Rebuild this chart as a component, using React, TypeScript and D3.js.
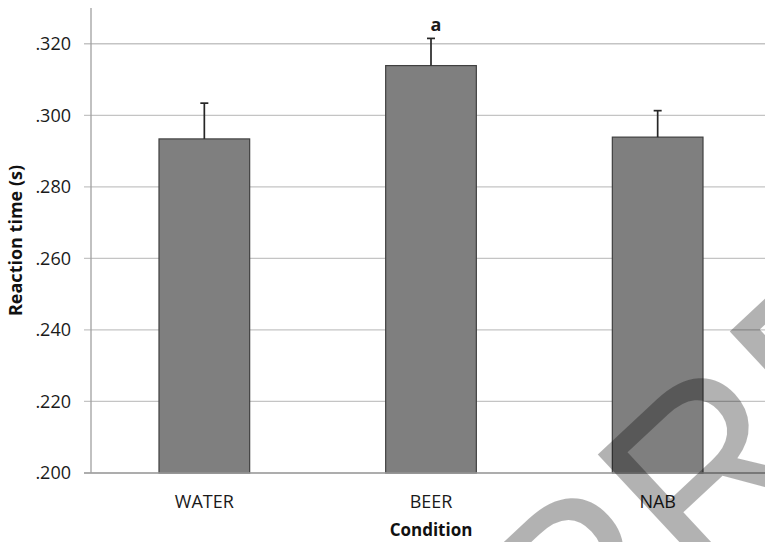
import { useEffect, useRef } from 'react'
import * as d3 from 'd3'

const conditions = ['WATER', 'BEER', 'NAB']
const reactionTimes = [0.2934, 0.3139, 0.2939]
const errors = [0.01, 0.0076, 0.0074]
const markers = ['', 'a', '']
const yTicks = [0.2, 0.22, 0.24, 0.26, 0.28, 0.3, 0.32]

const W = 765
const H = 542
const FONT = '"Open Sans", "Noto Sans", sans-serif'

export default function App() {
  const svgRef = useRef<SVGSVGElement>(null)

  useEffect(() => {
    const svgEl = svgRef.current
    if (!svgEl) return

    const margin = { top: 8, right: -6, bottom: 69, left: 91 }
    const innerW = W - margin.left - margin.right
    const innerH = H - margin.top - margin.bottom

    const svg = d3.select(svgEl)
    svg.selectAll('*').remove()

    const x = d3.scaleBand<string>()
      .domain(conditions)
      .range([0, innerW])
      .paddingInner(0.6)
      .paddingOuter(0.3)
    const y = d3.scaleLinear().domain([0.2, 0.33]).range([innerH, 0])

    const g = svg.append('g').attr('transform', `translate(${margin.left},${margin.top})`)

    // gridlines + left ticks
    g.append('g')
      .selectAll('line')
      .data(yTicks)
      .enter()
      .append('line')
      .attr('x1', -7)
      .attr('x2', innerW)
      .attr('y1', d => y(d))
      .attr('y2', d => y(d))
      .style('stroke', '#c4c4c4')
      .style('stroke-width', '1.3')

    // y tick labels
    g.append('g')
      .selectAll('text')
      .data(yTicks)
      .enter()
      .append('text')
      .attr('x', -20)
      .attr('y', d => y(d))
      .attr('dy', '0.36em')
      .attr('text-anchor', 'end')
      .style('font-family', FONT)
      .style('font-size', '18px')
      .style('fill', '#1a1a1a')
      .text(d => d3.format('.3f')(d).replace(/^0/, ''))

    // y axis line
    g.append('line')
      .attr('x1', 0).attr('x2', 0)
      .attr('y1', 0).attr('y2', innerH)
      .style('stroke', '#a0a0a0')
      .style('stroke-width', '1.3')

    // bars
    const rows = conditions.map((c, i) => ({ c, v: reactionTimes[i], e: errors[i], m: markers[i] }))

    g.selectAll('rect.bar')
      .data(rows)
      .enter()
      .append('rect')
      .attr('class', 'bar')
      .attr('x', d => x(d.c)!)
      .attr('y', d => y(d.v))
      .attr('width', x.bandwidth())
      .attr('height', d => innerH - y(d.v))
      .style('fill', '#7f7f7f')
      .style('stroke', '#404040')
      .style('stroke-width', '1.2')

    // x axis line
    g.append('line')
      .attr('x1', -7).attr('x2', innerW)
      .attr('y1', innerH).attr('y2', innerH)
      .style('stroke', '#a0a0a0')
      .style('stroke-width', '1.5')

    // error bars (upper only)
    const eb = g.selectAll('g.err').data(rows).enter().append('g').attr('class', 'err')
    eb.append('line')
      .attr('x1', d => x(d.c)! + x.bandwidth() / 2)
      .attr('x2', d => x(d.c)! + x.bandwidth() / 2)
      .attr('y1', d => y(d.v))
      .attr('y2', d => y(d.v + d.e))
      .style('stroke', '#262626')
      .style('stroke-width', '1.7')
    eb.append('line')
      .attr('x1', d => x(d.c)! + x.bandwidth() / 2 - 4)
      .attr('x2', d => x(d.c)! + x.bandwidth() / 2 + 4)
      .attr('y1', d => y(d.v + d.e))
      .attr('y2', d => y(d.v + d.e))
      .style('stroke', '#262626')
      .style('stroke-width', '1.7')
    eb.append('text')
      .attr('x', d => x(d.c)! + x.bandwidth() / 2 + 5)
      .attr('y', d => y(d.v + d.e) - 7)
      .attr('text-anchor', 'middle')
      .style('font-family', FONT)
      .style('font-size', '18px')
      .style('font-weight', '700')
      .style('fill', '#1a1a1a')
      .text(d => d.m)

    // category labels
    g.append('g')
      .selectAll('text')
      .data(conditions)
      .enter()
      .append('text')
      .attr('x', d => x(d)! + x.bandwidth() / 2)
      .attr('y', innerH + 35)
      .attr('text-anchor', 'middle')
      .style('font-family', FONT)
      .style('font-size', '18px')
      .style('fill', '#1a1a1a')
      .text(d => d)

    // axis titles
    g.append('text')
      .attr('x', x('BEER')! + x.bandwidth() / 2)
      .attr('y', innerH + 63)
      .attr('text-anchor', 'middle')
      .style('font-family', FONT)
      .style('font-size', '17px')
      .style('font-weight', '700')
      .style('fill', '#111')
      .text('Condition')

    g.append('text')
      .attr('transform', 'rotate(-90)')
      .attr('x', -innerH / 2)
      .attr('y', -69)
      .attr('text-anchor', 'middle')
      .style('font-family', FONT)
      .style('font-size', '18px')
      .style('font-weight', '700')
      .style('fill', '#111')
      .text('Reaction time (s)')

    // watermark overlay
    svg.append('text')
      .attr('x', 578)
      .attr('y', 708)
      .attr('transform', 'rotate(-43,578,708)')
      .style('font-family', '"Liberation Sans", Arial, sans-serif')
      .style('font-size', '250px')
      .style('fill', '#000')
      .style('fill-opacity', '0.3')
      .text('PREVIEW')
  }, [])

  return (
    <div>
      <style>{'body{margin:0}'}</style>
      <svg ref={svgRef} width={W} height={H} style={{ display: 'block', background: '#fff' }} />
    </div>
  )
}
